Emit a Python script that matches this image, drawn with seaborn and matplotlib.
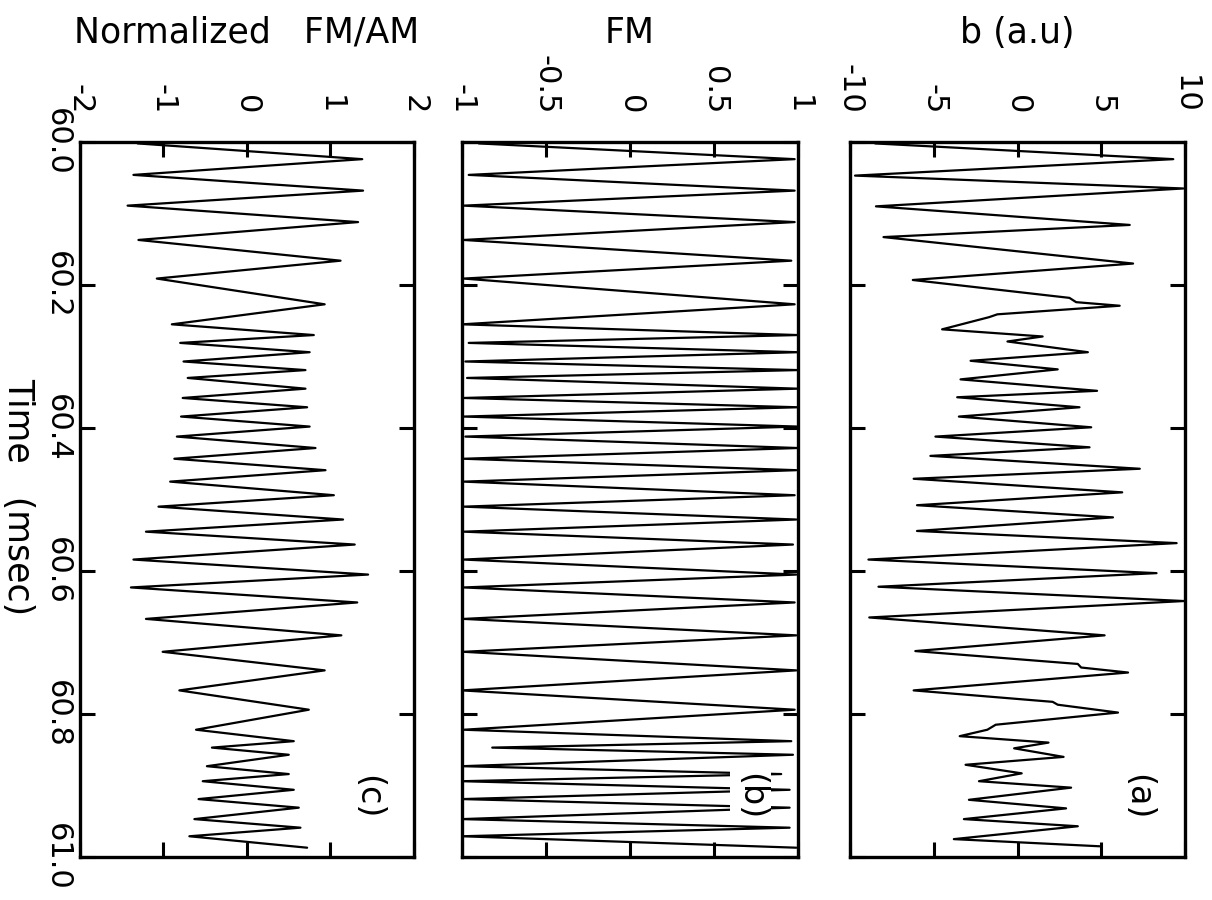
import matplotlib
matplotlib.use("Agg")
import matplotlib.pyplot as plt
import seaborn as sns

# ---------------- data ----------------
# panel (c) Normalized FM/AM and panel (b) FM share the same extremum times
c_time = [60.002, 60.024, 60.046, 60.068, 60.089, 60.112, 60.137, 60.166, 60.191, 60.227,
          60.255, 60.270, 60.281, 60.294, 60.307, 60.319, 60.330, 60.345, 60.358, 60.371,
          60.384, 60.398, 60.412, 60.428, 60.443, 60.459, 60.475, 60.494, 60.510, 60.528,
          60.545, 60.563, 60.584, 60.605, 60.623, 60.644, 60.667, 60.690, 60.713, 60.739,
          60.767, 60.794, 60.822, 60.838, 60.847, 60.857, 60.873, 60.884, 60.894, 60.906,
          60.919, 60.931, 60.947, 60.959, 60.971, 60.987]
c_value = [-1.31, 1.38, -1.36, 1.39, -1.43, 1.33, -1.30, 1.12, -1.08, 0.93,
           -0.90, 0.80, -0.80, 0.75, -0.76, 0.70, -0.71, 0.70, -0.77, 0.72,
           -0.79, 0.75, -0.84, 0.82, -0.87, 0.94, -0.92, 1.04, -1.06, 1.15,
           -1.21, 1.29, -1.36, 1.45, -1.39, 1.32, -1.21, 1.13, -1.01, 0.93,
           -0.81, 0.74, -0.61, 0.56, -0.42, 0.50, -0.48, 0.50, -0.53, 0.56,
           -0.58, 0.62, -0.63, 0.64, -0.69, 0.72]
b_value = [-0.90, 0.98, -0.96, 0.98, -0.99, 0.98, -0.99, 0.96, -0.99, 0.98,
           -1.00, 1.00, -0.96, 1.00, -0.98, 1.00, -0.97, 1.00, -0.99, 1.00,
           -0.99, 1.00, -0.98, 1.00, -0.99, 0.99, -0.99, 0.98, -0.99, 0.99,
           -0.99, 0.97, -0.99, 0.99, -0.99, 0.98, -0.99, 0.99, -0.99, 0.99,
           -1.00, 0.98, -0.99, 0.96, -0.82, 0.97, -1.00, 0.90, -1.00, 0.95,
           -1.00, 0.95, -1.00, 0.95, -1.00, 0.99]

# panel (a) b (a.u)
a_time = [60.002, 60.024, 60.047, 60.065, 60.090, 60.116, 60.133, 60.170, 60.193, 60.218,
          60.224, 60.229, 60.241, 60.245, 60.262, 60.272, 60.279, 60.294, 60.306, 60.318,
          60.332, 60.348, 60.357, 60.371, 60.384, 60.399, 60.412, 60.427, 60.439, 60.457,
          60.471, 60.490, 60.508, 60.525, 60.544, 60.561, 60.584, 60.603, 60.622, 60.642,
          60.665, 60.690, 60.712, 60.730, 60.735, 60.742, 60.767, 60.783, 60.787, 60.798,
          60.815, 60.822, 60.831, 60.840, 60.848, 60.860, 60.871, 60.883, 60.894, 60.903,
          60.920, 60.932, 60.947, 60.957, 60.975, 60.985]
a_value = [-8.5, 9.3, -9.7, 9.9, -8.45, 6.7, -8.0, 6.9, -6.25, 3.1,
           3.5, 6.1, -1.2, -1.7, -4.5, 1.5, -0.6, 4.2, -2.8, 2.4,
           -3.4, 4.75, -3.6, 3.7, -3.5, 4.4, -4.9, 4.3, -5.2, 7.3,
           -6.2, 6.25, -6.0, 5.7, -6.0, 9.5, -8.9, 8.3, -8.3, 9.95,
           -8.85, 5.2, -6.1, 3.6, 3.8, 6.6, -6.2, 2.1, 2.4, 6.0,
           -1.3, -1.8, -3.45, 1.85, -0.2, 2.75, -3.1, 0.25, -2.3, 3.2,
           -2.9, 2.9, -3.2, 3.6, -3.8, 4.9]

time_ticks = [60.0, 60.2, 60.4, 60.6, 60.8, 61.0]
time_tick_labels = ["60.0", "60.2", "60.4", "60.6", "60.8", "61.0"]
c_ticks = [-2, -1, 0, 1, 2]
c_tick_labels = ["-2", "-1", "0", "1", "2"]
b_ticks = [-1, -0.5, 0, 0.5, 1]
b_tick_labels = ["-1", "-0.5", "0", "0.5", "1"]
a_ticks = [-10, -5, 0, 5, 10]
a_tick_labels = ["-10", "-5", "0", "5", "10"]
value_labels = ["Normalized   FM/AM", "FM", "b (a.u)"]
panel_tags = ["(c)", "(b)", "(a)"]
time_label = "Time   (msec)"

# ---------------- style ----------------
sns.set_style("white")
plt.rcParams['font.family'] = ['DejaVu Sans']
plt.rcParams['text.color'] = 'black'
plt.rcParams['xtick.color'] = 'black'
plt.rcParams['ytick.color'] = 'black'
plt.rcParams['axes.edgecolor'] = 'black'

W, H = 1212, 900
fig = plt.figure(figsize=(W / 100, H / 100), dpi=100)

top_px, bot_px = 142, 857
panels = [
    (80, 334, c_time, c_value, c_ticks, c_tick_labels),
    (462, 336, c_time, b_value, b_ticks, b_tick_labels),
    (850, 335, a_time, a_value, a_ticks, a_tick_labels),
]

for i, (left, width, t, v, ticks, tlabels) in enumerate(panels):
    ax = fig.add_axes([left / W, 1 - bot_px / H, width / W, (bot_px - top_px) / H])
    sns.lineplot(x=v, y=t, orient="y", sort=False, estimator=None,
                 color="black", linewidth=1.6, ax=ax)
    ax.set_xlim(ticks[0], ticks[-1])
    ax.set_ylim(61.0, 60.0)
    ax.set_xlabel("")
    ax.set_ylabel("")

    ax.set_xticks(ticks)
    ax.set_xticklabels(tlabels, rotation=-90, fontsize=22)
    ax.tick_params(axis="x", direction="in", top=True, bottom=True,
                   labeltop=True, labelbottom=False, length=11, width=2.2, pad=20)

    ax.set_yticks(time_ticks)
    ax.set_yticklabels(time_tick_labels, rotation=-90, va="center", fontsize=22)
    ax.tick_params(axis="y", direction="in", left=True, right=True,
                   labelleft=(i == 0), labelright=False, length=11, width=2.2, pad=6)

    for s in ax.spines.values():
        s.set_visible(True)
        s.set_linewidth(2.4)
        s.set_color("black")

    ax.text(0.5, 1 + (top_px - 43) / (bot_px - top_px), value_labels[i],
            transform=ax.transAxes, ha="center", va="baseline", fontsize=25)
    ax.text(0.86, 0.084, panel_tags[i], transform=ax.transAxes, rotation=-90,
            ha="center", va="center", fontsize=24, zorder=5,
            bbox=dict(boxstyle="square,pad=0.12", fc="white", ec="none"))

fig.text(18 / W, 1 - 497 / H, time_label, rotation=-90, ha="center", va="center",
         fontsize=25)

fig.savefig("out.png", dpi=100)
